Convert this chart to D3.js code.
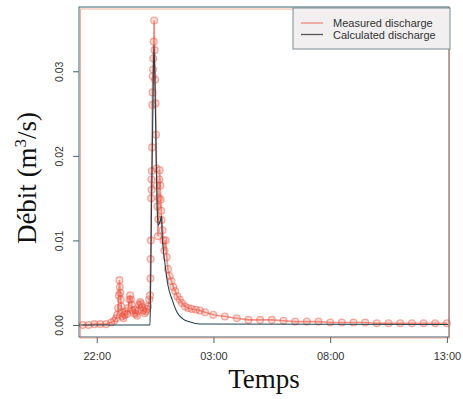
<!DOCTYPE html>
<html>
<head>
<meta charset="utf-8">
<script src="https://cdn.jsdelivr.net/npm/d3@7"></script>
<style>
body { margin: 0; background: #fff; }
svg { display: block; }
</style>
</head>
<body>
<div id="chart"></div>
<script>
// time in hours since 00:00 of the first day (24+ = next day)
var measuredTime = [21.40, 21.65, 21.90, 22.15, 22.40, 22.62, 22.75, 22.83, 22.88, 22.92, 22.95, 22.97, 22.99, 23.01, 23.03, 23.05, 23.07, 23.10, 23.15, 23.20,
	23.25, 23.30, 23.35, 23.40, 23.43, 23.46, 23.50, 23.54, 23.58, 23.63, 23.68, 23.73, 23.78, 23.82, 23.86, 23.90, 23.95, 24.00, 24.05, 24.10,
	24.15, 24.20, 24.25, 24.28, 24.30, 24.31, 24.32, 24.33, 24.34, 24.35, 24.36, 24.37, 24.38, 24.39, 24.40, 24.41, 24.42, 24.44, 24.46, 24.48,
	24.50, 24.52, 24.54, 24.56, 24.58, 24.60, 24.62, 24.64, 24.66, 24.68, 24.70, 24.72, 24.74, 24.76, 24.78, 24.82, 24.86, 24.90, 24.95, 25.00,
	25.05, 25.12, 25.20, 25.28, 25.36, 25.45, 25.55, 25.65, 25.78, 25.92, 26.07, 26.25, 26.42, 26.64, 26.99, 27.49, 28.00, 28.50, 29.00, 29.50,
	30.00, 30.50, 31.00, 31.50, 32.00, 32.50, 33.00, 33.50, 34.00, 34.50, 35.00, 35.50, 36.00, 36.50, 37.00];
var measuredValue = [0.0000, 0.0000, 0.0001, 0.0001, 0.0001, 0.0003, 0.0005, 0.0008, 0.0012, 0.0020, 0.0035, 0.0053, 0.0045, 0.0038, 0.0030, 0.0022, 0.0015, 0.0010, 0.0008, 0.0012,
	0.0016, 0.0013, 0.0020, 0.0030, 0.0035, 0.0030, 0.0024, 0.0017, 0.0014, 0.0018, 0.0013, 0.0011, 0.0017, 0.0024, 0.0027, 0.0025, 0.0021, 0.0017, 0.0014, 0.0016,
	0.0019, 0.0022, 0.0030, 0.0035, 0.0055, 0.0078, 0.0100, 0.0150, 0.0172, 0.0160, 0.0182, 0.0210, 0.0260, 0.0275, 0.0294, 0.0302, 0.0315, 0.0335, 0.0360, 0.0325,
	0.0290, 0.0262, 0.0225, 0.0185, 0.0165, 0.0140, 0.0105, 0.0125, 0.0150, 0.0172, 0.0183, 0.0165, 0.0148, 0.0135, 0.0124, 0.0112, 0.0100, 0.0088, 0.0100, 0.0080,
	0.0066, 0.0058, 0.0052, 0.0045, 0.0040, 0.0034, 0.0030, 0.0026, 0.0022, 0.0020, 0.0019, 0.0018, 0.0017, 0.0015, 0.0012, 0.0010, 0.0008, 0.0006, 0.0006, 0.0006,
	0.0005, 0.0004, 0.0004, 0.0004, 0.0003, 0.0003, 0.0003, 0.0003, 0.0002, 0.0002, 0.0002, 0.0002, 0.0002, 0.0002, 0.0002];

var calcTime = [21.24, 24.28, 24.30, 24.35, 24.41, 24.45, 24.50, 24.54, 24.58, 24.63, 24.71, 24.78, 24.80, 24.84, 24.93, 25.05, 25.23, 25.44, 25.70, 26.00, 26.42, 37.05];
var calcValue = [0, 0, 0.0030, 0.0148, 0.0266, 0.0331, 0.0278, 0.0207, 0.0148, 0.0118, 0.0122, 0.0129, 0.0106, 0.0092, 0.0071, 0.0047, 0.0030, 0.0015, 0.0007, 0.00035, 0.00012, 0.00006];

var xTicks = [22, 27, 32, 37];
var yTicks = [0, 0.01, 0.02, 0.03];
var seriesNames = ["Measured discharge", "Calculated discharge"];

var width = 463, height = 399;
var padding = {left: 79, right: 14, top: 7, bottom: 62};
var plotW = width - padding.left - padding.right;
var plotH = height - padding.top - padding.bottom;

var redLine = "rgba(236,72,52,0.6)";
var calcColor = "#22424e";
var boxColor = "#3d6470";

var svg = d3.select("#chart").append("svg")
	.attr("width", width)
	.attr("height", height);

var defs = svg.append("defs");
defs.append("filter").attr("id", "soft")
	.append("feGaussianBlur").attr("stdDeviation", 0.5);

var xScale = d3.scaleLinear().domain([21.24, 37.09]).range([0, plotW]);
var yScale = d3.scaleLinear().domain([-0.00142, 0.0376]).range([plotH, 0]);

var g = svg.append("g")
	.attr("transform", "translate(" + padding.left + "," + padding.top + ")");

// axes
var xAxis = d3.axisBottom(xScale)
	.tickValues(xTicks)
	.tickSizeInner(6)
	.tickSizeOuter(0)
	.tickPadding(9)
	.tickFormat(function(d){ return d3.format("02d")(d % 24) + ":00"; });

var yAxis = d3.axisLeft(yScale)
	.tickValues(yTicks)
	.tickSizeInner(6)
	.tickSizeOuter(0)
	.tickPadding(5)
	.tickFormat(d3.format(".2f"));

var xg = g.append("g")
	.attr("transform", "translate(0," + plotH + ")")
	.call(xAxis);
var yg = g.append("g").call(yAxis);

[xg, yg].forEach(function(ax){
	ax.select(".domain").remove();
	ax.selectAll(".tick line").attr("stroke", boxColor);
	ax.selectAll(".tick text")
		.attr("fill", "#333")
		.style("font-family", "'Liberation Sans', Arial, sans-serif")
		.style("font-size", "11px");
});
yg.selectAll(".tick text")
	.style("font-size", "10.5px")
	.attr("text-anchor", "middle")
	.attr("x", 0).attr("dy", 0)
	.attr("transform", "translate(-16,0) rotate(-90)");

// plotting area
var plot = g.append("g").attr("filter", "url(#soft)");

var measured = measuredTime.map(function(t, i){ return {t: t, v: measuredValue[i]}; });
var calculated = calcTime.map(function(t, i){ return {t: t, v: calcValue[i]}; });

var line = d3.line()
	.x(function(d){ return xScale(d.t); })
	.y(function(d){ return yScale(d.v); });

plot.append("path")
	.datum(measured)
	.attr("d", line)
	.attr("fill", "none")
	.attr("stroke", redLine)
	.attr("stroke-width", 1.6);

plot.selectAll(".pt")
	.data(measured)
	.enter()
	.append("circle")
	.attr("class", "pt")
	.attr("cx", function(d){ return xScale(d.t); })
	.attr("cy", function(d){ return yScale(d.v); })
	.attr("r", 3.4)
	.attr("fill", "rgba(240,110,90,0.22)")
	.attr("stroke", "rgba(232,70,50,0.42)")
	.attr("stroke-width", 1.3);

plot.append("path")
	.datum(calculated)
	.attr("d", line.curve(d3.curveMonotoneX))
	.attr("fill", "none")
	.attr("stroke", calcColor)
	.attr("stroke-width", 1.1);

// box
g.append("rect")
	.attr("x", 0).attr("y", 0)
	.attr("width", plotW).attr("height", plotH)
	.attr("fill", "none")
	.attr("stroke", boxColor)
	.attr("stroke-width", 1);
g.append("rect")
	.attr("x", 1.5).attr("y", 2)
	.attr("width", plotW - 1).attr("height", plotH - 1)
	.attr("fill", "none")
	.attr("stroke", "rgba(240,110,80,0.55)")
	.attr("stroke-width", 1);

// legend
var leg = svg.append("g").attr("transform", "translate(293,8)");
leg.append("rect")
	.attr("width", 157).attr("height", 41)
	.attr("fill", "#f1efef")
	.attr("stroke", "#7d8a90")
	.attr("stroke-width", 1);
var legColors = [redLine, "#555"];
seriesNames.forEach(function(name, i){
	var yy = 15 + i * 11.5;
	leg.append("line")
		.attr("x1", 8).attr("x2", 30)
		.attr("y1", yy).attr("y2", yy)
		.attr("stroke", legColors[i])
		.attr("stroke-width", 1.3);
	leg.append("text")
		.attr("x", 40).attr("y", yy + 4)
		.attr("fill", "#333")
		.style("font-family", "'Liberation Sans', Arial, sans-serif")
		.style("font-size", "11px")
		.text(name);
});

// axis titles
svg.append("text")
	.attr("x", padding.left + plotW / 2)
	.attr("y", 388)
	.attr("text-anchor", "middle")
	.style("font-family", "'Liberation Serif', 'Times New Roman', serif")
	.style("font-size", "27px")
	.attr("fill", "#111")
	.text("Temps");

var yTitle = svg.append("text")
	.attr("transform", "translate(36,178) rotate(-90)")
	.attr("text-anchor", "middle")
	.style("font-family", "'Liberation Serif', 'Times New Roman', serif")
	.style("font-size", "27px")
	.attr("fill", "#111");
yTitle.append("tspan").text("Débit (m");
yTitle.append("tspan").attr("dy", -10).style("font-size", "17px").text("3");
yTitle.append("tspan").attr("dy", 10).text("/s)");
</script>
</body>
</html>
